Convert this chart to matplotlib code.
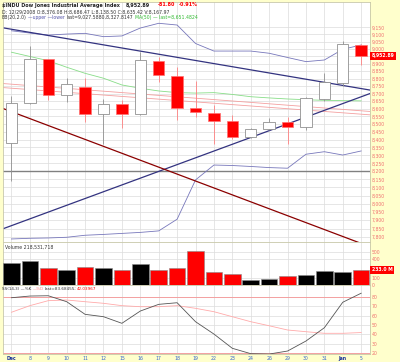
import matplotlib
matplotlib.use('Agg')
import matplotlib.pyplot as plt
import matplotlib.transforms as mtransforms
from matplotlib.ticker import NullLocator, NullFormatter
import numpy as np

plt.rcParams['font.family'] = ['Liberation Sans Narrow', 'DejaVu Sans']

# ---- data (DJIA, Dec 5 2008 - Jan 5 2009) ----
dates = ['Dec', '8', '9', '10', '11', '12', '15', '16', '17', '18', '19',
         '22', '23', '24', '26', '29', '30', '31', 'Jan', '5']

opens = [8376, 8636, 8932, 8691, 8745, 8564, 8629, 8564, 8917, 8819, 8607,
         8570, 8520, 8415, 8466, 8512, 8484, 8664, 8768, 9027]
highs = [8686, 9021, 8935, 8804, 8804, 8662, 8657, 8982, 8947, 8880, 8784,
         8625, 8559, 8472, 8539, 8548, 8676, 8839, 9057, 9035]
lows = [8138, 8634, 8657, 8646, 8516, 8374, 8473, 8560, 8779, 8527, 8548,
        8374, 8405, 8410, 8460, 8374, 8460, 8650, 8752, 8891]
closes = [8635, 8934, 8691, 8763, 8565, 8630, 8565, 8924, 8824, 8605, 8579,
          8520, 8419, 8468, 8516, 8484, 8668, 8776, 9035, 8953]

# volume in millions
volume = [340, 361, 268, 226, 283, 263, 226, 325, 237, 268, 523,
          206, 164, 71, 87, 144, 155, 221, 206, 232]

bb_upper = [9126, 9110, 9096, 9103, 9108, 9085, 9090, 9145, 9178, 9166, 9038,
            8986, 8986, 8986, 8971, 8942, 8914, 8925, 8998, 9027.6]
bb_lower = [7788, 7792, 7794, 7798, 7810, 7815, 7821, 7827, 7836, 7906, 8146,
            8239, 8236, 8230, 8223, 8219, 8307, 8323, 8302, 8327.8]
ma50 = [8978, 8949, 8920, 8876, 8835, 8802, 8757, 8735, 8717, 8706, 8703,
        8706, 8694, 8679, 8671, 8664, 8659, 8655, 8653, 8651.5]

pct_k = [78.9, 80.7, 81.0, 74.7, 61.3, 58.8, 51.8, 64.8, 71.9, 73.6, 53.5,
         40.4, 25.3, 19.6, 19.2, 22.4, 33.0, 47.1, 74.1, 83.7]
pct_d = [63.5, 70.5, 75.8, 76.5, 74.7, 73.0, 70.5, 69.4, 69.4, 70.5, 67.7,
         64.1, 58.8, 53.5, 49.2, 44.7, 42.9, 41.2, 41.2, 42.0]

# hand-drawn trend lines: bar index at both ends, price at both ends
line_x = [-0.625, 19.48]
down_blue = [9150, 8723]
up_blue = [7842, 8700]
down_red = [8609, 7742]
pink_a = [8768, 8582]
pink_b = [8741, 8560]
support = 8200

# ---- figure ----
W, H = 400, 362
cream = '#FFFFCC'
fig = plt.figure(figsize=(W / 100, H / 100), dpi=100, facecolor=cream)
rend = fig.canvas.get_renderer()

def box(x0, y0, x1, y1):
    return [x0 / W, 1 - y1 / H, (x1 - x0) / W, (y1 - y0) / H]

ax = fig.add_axes(box(3, 2, 370, 242))
axv = fig.add_axes(box(3, 242, 370, 285))
axs = fig.add_axes(box(3, 285, 370, 354))

idx = np.arange(len(dates))
axis_col = '#F07070'
grid_col = '#DCDCDC'
small = 3.3

for a in (ax, axv, axs):
    a.set_facecolor('white')
    a.set_xlim(-0.46, 19.48)
    a.set_xticks(idx)
    a.grid(True, color=grid_col, lw=0.5)
    a.set_axisbelow(True)
    a.yaxis.tick_right()
    a.tick_params(axis='y', length=0, pad=1, labelsize=small, labelcolor=axis_col)
    a.tick_params(axis='x', length=0, labelbottom=False)
    for s in a.spines.values():
        s.set_color('#C8C8A8')
        s.set_linewidth(0.6)

# price panel
ax.set_yscale('log')
ax.set_ylim(7770, 9328)
ticks = np.arange(7800, 9151, 50)
ax.set_yticks(ticks)
# the 8,950 label sits under the last-price box
ax.set_yticklabels(['' if t == 8950 else f'{t:,}' for t in ticks])
ax.yaxis.set_minor_locator(NullLocator())
ax.yaxis.set_minor_formatter(NullFormatter())

ax.axhline(support, color='#808080', lw=1.0, zorder=2)
ax.plot(line_x, pink_a, color='#F4A0A0', lw=0.6, zorder=2)
ax.plot(line_x, pink_b, color='#F4A0A0', lw=0.6, zorder=2)
ax.plot(idx, ma50, color='#88DD88', lw=0.6, zorder=2)
ax.plot(idx, bb_upper, color='#7777BB', lw=0.6, zorder=2)
ax.plot(idx, bb_lower, color='#7777BB', lw=0.6, zorder=2)
ax.plot(line_x, down_blue, color='#333380', lw=0.9, zorder=2)
ax.plot(line_x, up_blue, color='#333380', lw=0.9, zorder=2)
ax.plot(line_x, down_red, color='#8B0000', lw=0.9, zorder=2)

o = np.array(opens); c = np.array(closes)
up = c >= o
wick_cols = np.where(up, '#909090', '#FF8080')
ax.vlines(idx, lows, highs, colors=wick_cols, lw=0.6, zorder=3)
body_lo = np.minimum(o, c)
body_h = np.abs(c - o)
ax.bar(idx[up], body_h[up], bottom=body_lo[up], width=0.62,
       facecolor='white', edgecolor='#909090', lw=0.6, zorder=4)
ax.bar(idx[~up], body_h[~up], bottom=body_lo[~up], width=0.62,
       facecolor='#FF0000', edgecolor='#FF7070', lw=0.5, zorder=4)

blend = mtransforms.blended_transform_factory(ax.transAxes, ax.transData)
ax.text(1.005, closes[-1] - 0.11, '8,952.89', transform=blend, ha='left', va='center',
        color='white', fontsize=small, fontweight='bold', zorder=10,
        bbox=dict(boxstyle='square,pad=0.35', fc='#FF0000', ec='none'))

# header text: coloured pieces written one after another
def chain(x, y, parts, size=small):
    for s, col, bold, gap in parts:
        t = fig.text(x / W, 1 - y / H, s, color=col, fontsize=size, va='center',
                     fontweight='bold' if bold else 'normal')
        x = t.get_window_extent(renderer=rend).x1 + gap

chain(1.7, 5, [('$INDU Dow Jones Industrial Average Index', '#222222', True, 6),
               ('8,952.89', '#222222', True, 8),
               ('-81.80', '#FF0000', True, 4),
               ('-0.91%', '#FF0000', True, 0)], size=3.5)
chain(1.7, 11.5, [('D: 12/29/2008 O:8,376.08 H:8,686.47 L:8,138.50 C:8,635.42 V:8,167.97',
                   '#333333', False, 0)])
chain(1.7, 17, [('BB(20,2.0)', '#333333', False, 1.5),
                ('\u2014upper \u2014lower', '#5555AA', False, 1.5),
                ('last=9,027.5880,8,327.8147', '#333333', False, 2),
                ('MA(50) \u2014 last=8,651.4824', '#33BB33', False, 0)])

# volume panel
vol_cols = ['black'] + ['black' if closes[i] >= closes[i - 1] else '#FF0000'
                        for i in range(1, len(closes))]
axv.bar(idx, volume, width=0.9, color=vol_cols, edgecolor='#888888', lw=0.4, zorder=3)
axv.set_ylim(0, 660)
axv.set_yticks([0, 100, 400, 500])
axv.set_yticklabels(['0', '100', '400', '500'])
blendv = mtransforms.blended_transform_factory(axv.transAxes, axv.transData)
axv.text(1.005, 233, '233.0 M', transform=blendv, ha='left', va='center',
         color='white', fontsize=small, fontweight='bold', zorder=10,
         bbox=dict(boxstyle='square,pad=0.35', fc='#FF0000', ec='none'))
axv.text(0.005, 0.93, 'Volume 218,531,718', transform=axv.transAxes, va='top',
         color='#333333', fontsize=small)

# slow stochastics panel
axs.set_ylim(19.26, 92.4)
axs.set_yticks(range(20, 81, 10))
axs.axhline(80, color='#F4A0A0', lw=0.7, zorder=2)
axs.axhline(20, color='#F4A0A0', lw=0.7, zorder=2)
axs.plot(idx, pct_d, color='#FFAAAA', lw=0.6, zorder=3)
axs.plot(idx, pct_k, color='#555555', lw=0.6, zorder=3)
chain(1.7, 288.5, [('SS(14,3) \u2014%K', '#333333', False, 1.5),
                   ('\u2014%D', '#FF8888', False, 1.5),
                   ('last=83.68455;', '#333333', False, 0.5),
                   ('42.03967', '#FF0000', False, 0)], size=3.0)

axs.tick_params(axis='x', labelbottom=True, pad=1.5, labelsize=small)
axs.set_xticklabels(dates)
for lab in axs.get_xticklabels():
    if lab.get_text() in ('Dec', 'Jan'):
        lab.set_color('#1A3399')
        lab.set_fontweight('bold')
    else:
        lab.set_color('#3366CC')

fig.savefig('out.png', dpi=100, facecolor=cream)
